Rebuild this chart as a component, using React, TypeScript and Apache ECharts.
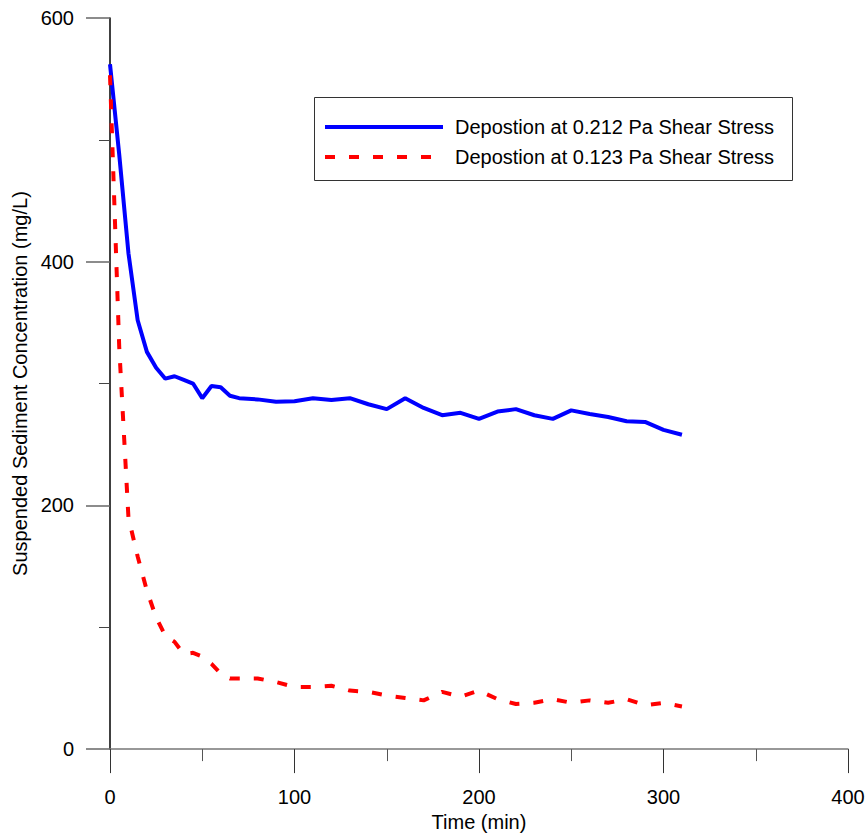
import React, { useEffect, useRef } from "react";
import * as echarts from "echarts";

const timeMin = [0, 5, 10, 15, 20, 25, 30, 35, 40, 45, 50, 55, 60, 65, 70, 80, 90, 100, 110, 120, 130, 140, 150, 160, 170, 180, 190, 200, 210, 220, 230, 240, 250, 260, 270, 280, 290, 300, 310];
const blueValues = [562, 488, 407, 352, 326, 313, 304, 306, 303, 300, 288, 298, 297, 290, 288, 287, 285, 285.5, 288, 286.5, 288, 283, 279, 288, 280, 274, 276, 271, 277, 279, 274, 271, 278, 275, 272.5, 269, 268.5, 262, 258];
const redValues = [553, 330, 190, 158, 130, 108, 93, 88, 78, 79, 76, 70, 62, 58, 58, 58, 55, 51, 51, 52, 48, 47, 44, 42, 40, 47, 43, 48, 41, 37, 38, 41, 38, 40, 38, 41, 36, 38, 35];
const seriesNames = ["Depostion at 0.212 Pa Shear Stress", "Depostion at 0.123 Pa Shear Stress"];
const xTitle = "Time (min)";
const yTitle = "Suspended Sediment Concentration (mg/L)";

const FONT = "'Liberation Sans', Arial, sans-serif";
const BLUE = "#0000ff";
const RED = "#ff0000";
const DASH = [10, 14];

export default function App() {
  const ref = useRef<HTMLDivElement>(null);
  useEffect(() => {
    if (!ref.current) return;
    const chart = echarts.init(ref.current, null, { renderer: "svg" });
    const pair = (vals: number[]) => timeMin.map((t, i) => [t, vals[i]]);
    chart.setOption({
      animation: false,
      backgroundColor: "#ffffff",
      grid: { left: 110, right: 20, top: 18, bottom: 85 },
      graphic: [
        {
          type: "rect",
          shape: { x: 314.5, y: 97.5, width: 478, height: 83 },
          style: { fill: "#fff", stroke: "#333", lineWidth: 1 },
          z: 100,
        },
        {
          type: "line",
          shape: { x1: 325, y1: 127, x2: 443, y2: 127 },
          style: { stroke: BLUE, lineWidth: 4 },
          z: 101,
        },
        {
          type: "line",
          shape: { x1: 325, y1: 157, x2: 443, y2: 157 },
          style: { stroke: RED, lineWidth: 4, lineDash: DASH },
          z: 101,
        },
        {
          type: "text",
          x: 455,
          y: 127,
          style: { text: seriesNames[0], fontFamily: FONT, fontSize: 20, fill: "#000", verticalAlign: "middle", align: "left" },
          z: 101,
        },
        {
          type: "text",
          x: 455,
          y: 157,
          style: { text: seriesNames[1], fontFamily: FONT, fontSize: 20, fill: "#000", verticalAlign: "middle", align: "left" },
          z: 101,
        },
      ],
      xAxis: {
        type: "value",
        min: 0,
        max: 400,
        interval: 100,
        name: xTitle,
        nameLocation: "middle",
        nameGap: 62,
        nameTextStyle: { fontFamily: FONT, fontSize: 20, color: "#000" },
        axisLine: { onZero: false, lineStyle: { color: "#777", width: 1.5 } },
        axisTick: { show: true, length: 24, lineStyle: { color: "#333", width: 1 } },
        minorTick: { show: true, splitNumber: 2, length: 12, lineStyle: { color: "#555", width: 1 } },
        axisLabel: { fontFamily: FONT, fontSize: 20, color: "#000", margin: 38 },
        splitLine: { show: false },
      },
      yAxis: {
        type: "value",
        min: 0,
        max: 600,
        interval: 200,
        name: yTitle,
        nameLocation: "middle",
        nameGap: 78,
        nameTextStyle: { fontFamily: FONT, fontSize: 20, color: "#000" },
        axisLine: { show: true, onZero: false, lineStyle: { color: "#000", width: 1.5 } },
        axisTick: { show: true, length: 24, lineStyle: { color: "#666", width: 1.5 } },
        minorTick: { show: true, splitNumber: 2, length: 11, lineStyle: { color: "#444", width: 1 } },
        axisLabel: { fontFamily: FONT, fontSize: 20, color: "#000", margin: 36 },
        splitLine: { show: false },
      },
      series: [
        {
          name: seriesNames[0],
          type: "line",
          data: pair(blueValues),
          symbol: "none",
          lineStyle: { color: BLUE, width: 4 },
          itemStyle: { color: BLUE },
        },
        {
          name: seriesNames[1],
          type: "line",
          data: pair(redValues),
          symbol: "none",
          lineStyle: { color: RED, width: 4, type: DASH },
          itemStyle: { color: RED },
        },
      ],
    });
    return () => chart.dispose();
  }, []);
  return <div ref={ref} style={{ width: 868, height: 837, position: "absolute", left: 0, top: 0 }} />;
}
